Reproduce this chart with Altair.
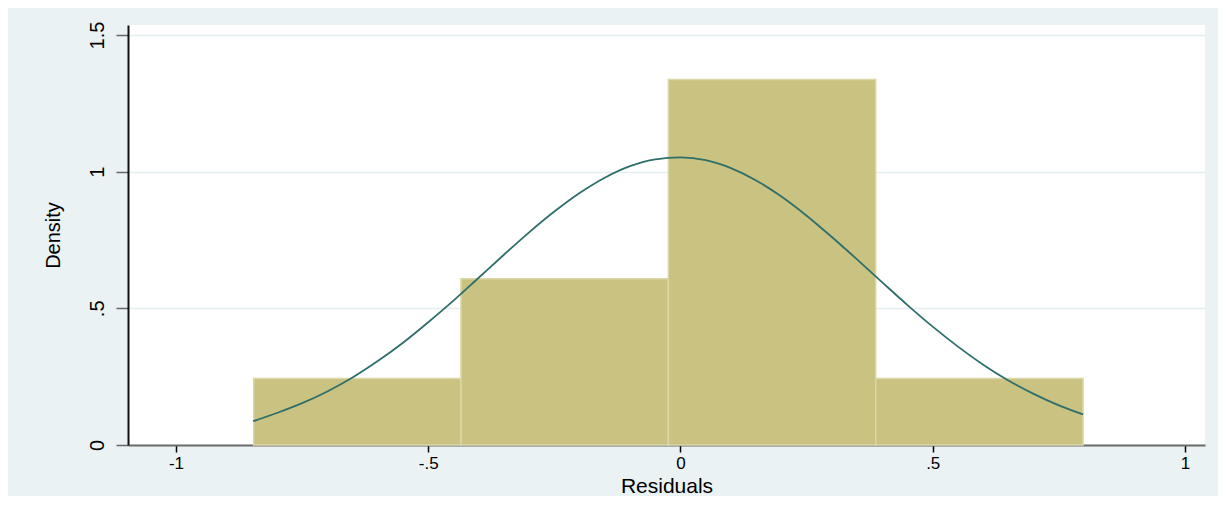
import altair as alt
import pandas as pd

# Histogram bins (density scale)
bin_start = [-0.846, -0.435, -0.024, 0.387]
bin_end = [-0.435, -0.024, 0.387, 0.798]
density = [0.243, 0.608, 1.337, 0.243]

# Normal density overlay
curve_x = [-0.847, -0.80, -0.75, -0.70, -0.65, -0.60, -0.55, -0.50, -0.45, -0.40,
           -0.35, -0.30, -0.25, -0.20, -0.15, -0.10, -0.05, 0.00, 0.05, 0.10,
           0.15, 0.20, 0.25, 0.30, 0.35, 0.40, 0.45, 0.50, 0.55, 0.60,
           0.65, 0.70, 0.75, 0.798]
curve_y = [0.087, 0.117, 0.153, 0.196, 0.247, 0.307, 0.374, 0.449, 0.528, 0.612,
           0.696, 0.778, 0.854, 0.922, 0.978, 1.020, 1.045, 1.052, 1.042, 1.013,
           0.968, 0.909, 0.839, 0.761, 0.679, 0.595, 0.512, 0.433, 0.360, 0.294,
           0.236, 0.187, 0.145, 0.112]

x_ticks = [-1, -0.5, 0, 0.5, 1]
x_tick_labels = ["-1", "-.5", "0", ".5", "1"]
y_ticks = [0, 0.5, 1, 1.5]
y_tick_labels = ["0", ".5", "1", "1.5"]

x_domain = [-1.0951, 1.0397]
y_domain = [0, 1.5366]


def label_expr(vals, labels):
    expr = "datum.label"
    for v, l in reversed(list(zip(vals, labels))):
        expr = f"datum.value == {v} ? '{l}' : ({expr})"
    return expr


bars_df = pd.DataFrame({"start": bin_start, "end": bin_end, "density": density})
curve_df = pd.DataFrame({"x": curve_x, "y": curve_y})

FONT = "Liberation Sans"

x_axis = alt.Axis(
    values=x_ticks,
    labelExpr=label_expr(x_ticks, x_tick_labels),
    grid=False,
    domainColor="#6B6B6B",
    domainWidth=2,
    tickColor="#000000",
    tickSize=7,
    tickWidth=1.5,
    labelFont=FONT,
    labelFontSize=17,
    labelColor="#000000",
    labelPadding=3,
    title="Residuals",
    titleFont=FONT,
    titleFontSize=21,
    titleFontWeight="normal",
    titleColor="#000000",
    titleBaseline="alphabetic",
    titleY=47,
)

y_axis = alt.Axis(
    values=y_ticks,
    labelExpr=label_expr(y_ticks, y_tick_labels),
    grid=True,
    gridColor="#E3ECEE",
    gridWidth=1.5,
    domainColor="#111111",
    domainWidth=2,
    tickColor="#666666",
    tickSize=12,
    tickWidth=1.5,
    labelAngle=-90,
    labelAlign="center",
    labelBaseline="alphabetic",
    labelPadding=13,
    labelFont=FONT,
    labelFontSize=20,
    labelColor="#000000",
    title="Density",
    titleFont=FONT,
    titleFontSize=20,
    titleFontWeight="normal",
    titleColor="#000000",
    titleAngle=270,
    titleBaseline="bottom",
    titleX=-65,
)

x_scale = alt.Scale(domain=x_domain, nice=False, zero=False)
y_scale = alt.Scale(domain=y_domain, nice=False)

bars = alt.Chart(bars_df).mark_bar(
    fill="#CAC280", stroke="#DCD7A8", strokeWidth=1.5
).encode(
    x=alt.X("start:Q", scale=x_scale, axis=x_axis),
    x2="end:Q",
    y=alt.Y("density:Q", scale=y_scale, axis=y_axis),
    y2=alt.datum(0),
)

curve = alt.Chart(curve_df).mark_line(
    color="#2E6F6B", strokeWidth=1.8, interpolate="monotone"
).encode(
    x=alt.X("x:Q", scale=x_scale),
    y=alt.Y("y:Q", scale=y_scale),
)

chart = alt.layer(bars, curve).properties(
    width=1077,
    height=420,
    autosize=alt.AutoSizeParams(type="none"),
    padding={"left": 120, "top": 17, "right": 13, "bottom": 51},
    background="#EAF2F3",
).configure_view(fill="#FFFFFF", stroke=None)

chart.save("out.html", embed_options={"renderer": "svg", "actions": False})
